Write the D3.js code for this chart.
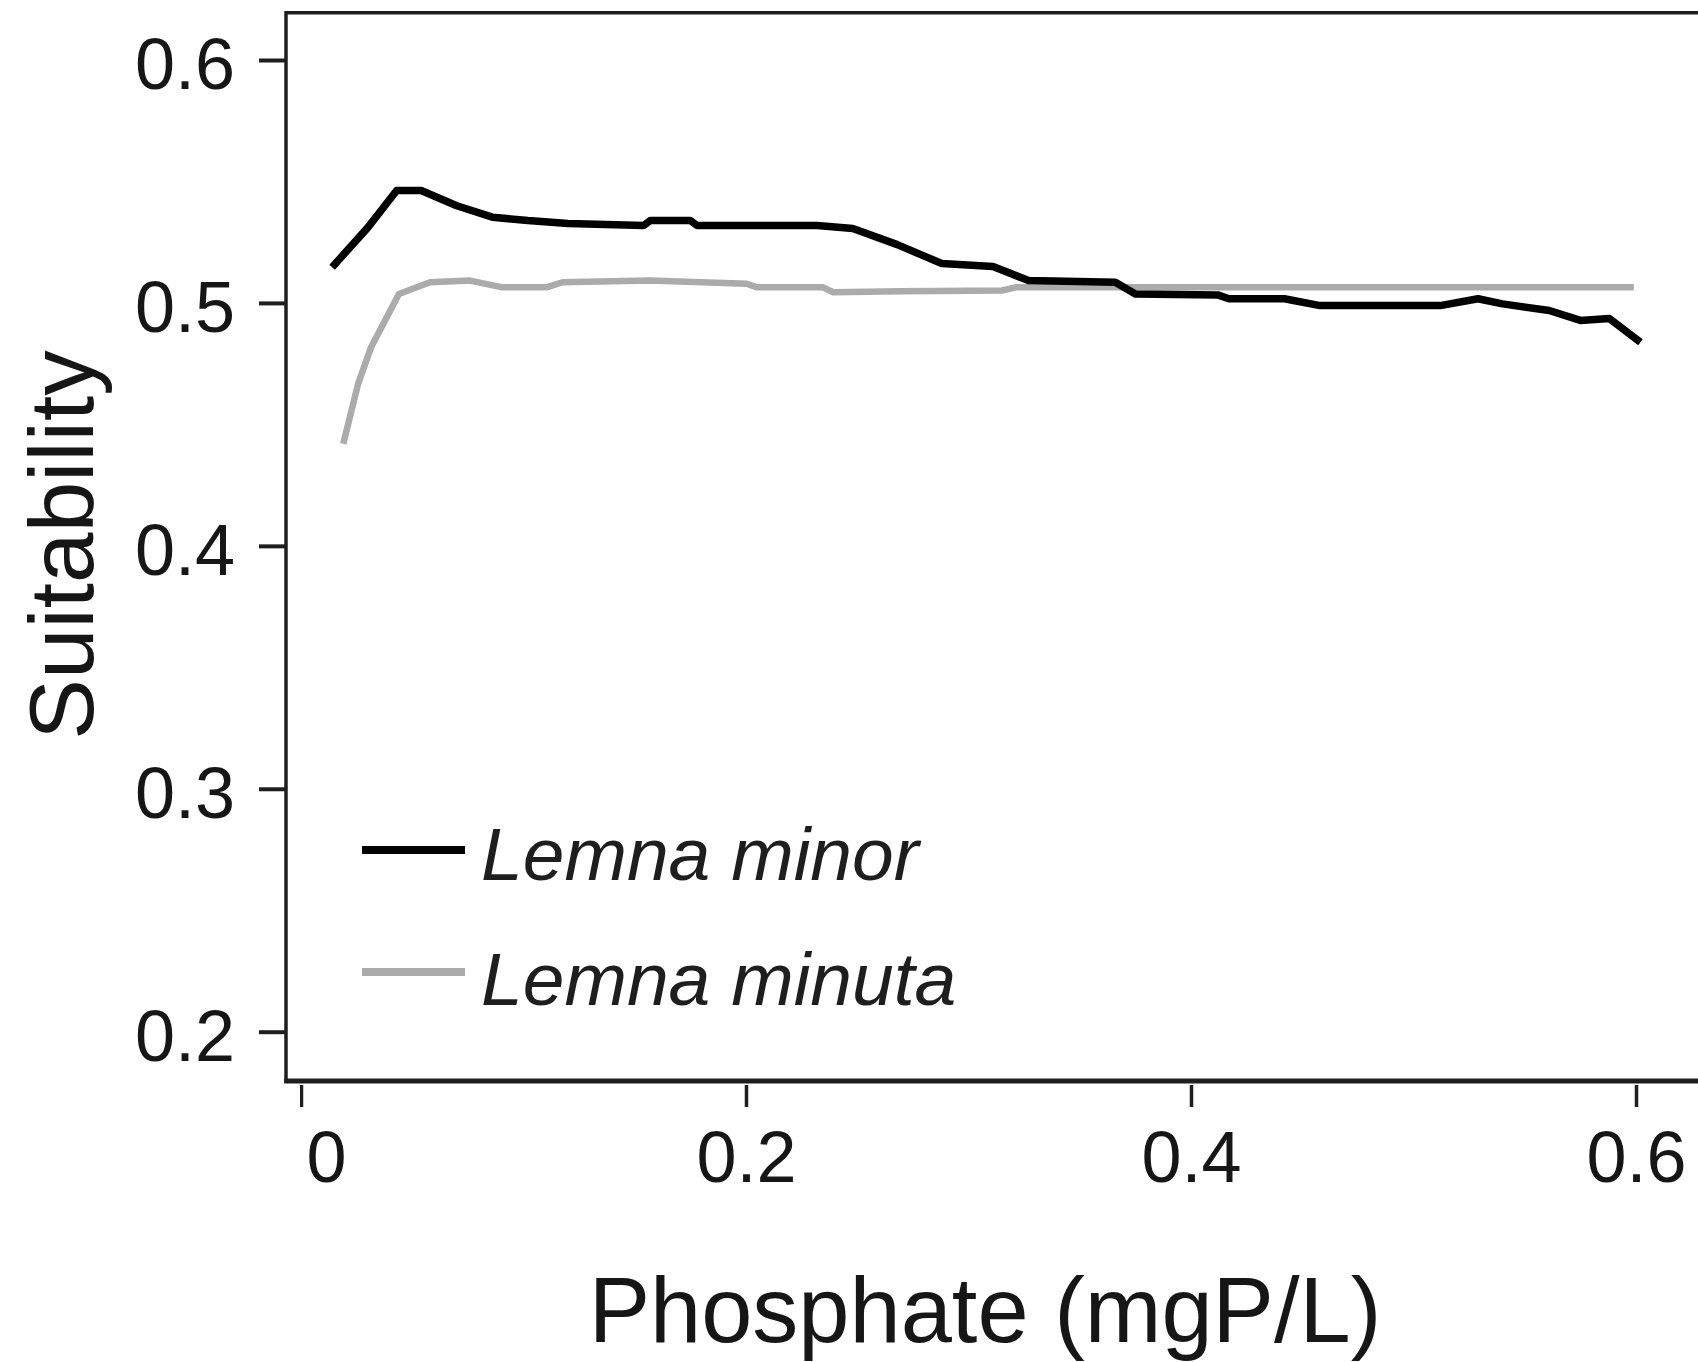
<!DOCTYPE html>
<html>
<head>
<meta charset="utf-8">
<script src="https://cdn.jsdelivr.net/npm/d3@7"></script>
<style>
  html, body { margin: 0; padding: 0; background: #fff; }
  svg { display: block; }
  text { font-family: "Liberation Sans", Arial, Helvetica, sans-serif; }
</style>
</head>
<body>
<svg id="chart" width="1698" height="1362"></svg>
<script>
// ---- Data ----
const seriesNames = ["Lemna minor", "Lemna minuta"];
const seriesColors = ["#000000", "#ababab"];

const minorX = [0.014, 0.030, 0.043, 0.054, 0.070, 0.086, 0.102, 0.120, 0.154, 0.157, 0.175, 0.178, 0.232, 0.248, 0.268, 0.288, 0.311, 0.327, 0.366, 0.375, 0.412, 0.417, 0.442, 0.458, 0.512, 0.529, 0.540, 0.561, 0.575, 0.588, 0.602];
const minorY = [0.5147, 0.5310, 0.5463, 0.5463, 0.5400, 0.5353, 0.5339, 0.5327, 0.5319, 0.5339, 0.5339, 0.5319, 0.5319, 0.5306, 0.5240, 0.5162, 0.5150, 0.5092, 0.5085, 0.5037, 0.5033, 0.5017, 0.5017, 0.4989, 0.4989, 0.5017, 0.4996, 0.4969, 0.4928, 0.4936, 0.4838];

const minutaX = [0.019, 0.0257, 0.0315, 0.044, 0.058, 0.076, 0.090, 0.1107, 0.1175, 0.1566, 0.2002, 0.2047, 0.2344, 0.2392, 0.270, 0.315, 0.3217, 0.360, 0.410, 0.450, 0.500, 0.550, 0.599];
const minutaY = [0.442, 0.4668, 0.4818, 0.5037, 0.5085, 0.5092, 0.5065, 0.5065, 0.5085, 0.5092, 0.5079, 0.5065, 0.5065, 0.5044, 0.5048, 0.5051, 0.5065, 0.5065, 0.5065, 0.5065, 0.5065, 0.5065, 0.5065];

const xTicks = [0, 0.2, 0.4, 0.6];
const xTickLabels = ["0.0", "0.2", "0.4", "0.6"];
const yTicks = [0.2, 0.3, 0.4, 0.5, 0.6];
const yTickLabels = ["0.2", "0.3", "0.4", "0.5", "0.6"];

const xTitle = "Phosphate (mgP/L)";
const yTitle = "Suitability";

// ---- Layout ----
const W = 1698, H = 1362;
const frameLeft = 286, frameTop = 12.7, frameBottom = 1081, frameRight = W;

const svg = d3.select("#chart");
svg.append("rect").attr("width", W).attr("height", H).attr("fill", "#fff");

const x = d3.scaleLinear().domain([0, 0.6]).range([301, 1636]);
const y = d3.scaleLinear().domain([0.2, 0.6]).range([1031.7, 60]);

// ---- Series lines ----
const series = [
  { name: seriesNames[0], color: seriesColors[0], width: 7.5, pts: minorX.map((v, i) => [v, minorY[i]]) },
  { name: seriesNames[1], color: seriesColors[1], width: 6.5, pts: minutaX.map((v, i) => [v, minutaY[i]]) }
];
const line = d3.line().x(d => x(d[0])).y(d => y(d[1]));

// draw gray first then black on top
[series[1], series[0]].forEach(s => {
  svg.append("path")
    .datum(s.pts)
    .attr("d", line)
    .attr("fill", "none")
    .attr("stroke", s.color)
    .attr("stroke-width", s.width)
    .attr("stroke-linejoin", "round")
    .attr("stroke-linecap", "butt");
});

// ---- Frame ----
const frame = svg.append("g").attr("stroke", "#1e1e1e").attr("fill", "none");
frame.append("line").attr("x1", frameLeft).attr("x2", frameRight).attr("y1", frameTop).attr("y2", frameTop).attr("stroke-width", 3.5);
frame.append("line").attr("x1", frameLeft).attr("x2", frameLeft).attr("y1", frameTop - 1.7).attr("y2", frameBottom + 2).attr("stroke-width", 3.5);
frame.append("line").attr("x1", frameLeft - 1.7).attr("x2", frameRight).attr("y1", frameBottom).attr("y2", frameBottom).attr("stroke-width", 5);

// ---- Y axis ----
const yAxis = d3.axisLeft(y)
  .tickValues(yTicks)
  .tickFormat((d, i) => yTickLabels[i])
  .tickSize(27)
  .tickPadding(24);
const gy = svg.append("g").attr("transform", `translate(${frameLeft},0)`).call(yAxis);
gy.select(".domain").remove();
gy.selectAll(".tick line").attr("stroke", "#1e1e1e").attr("stroke-width", 4);
gy.selectAll(".tick text")
  .attr("font-size", 72)
  .attr("font-family", "'Liberation Sans', Arial, sans-serif")
  .attr("fill", "#161616")
  .attr("dy", "0.4em");

// ---- X axis ----
const xAxis = d3.axisBottom(x)
  .tickValues(xTicks)
  .tickFormat((d, i) => xTickLabels[i])
  .tickSize(22)
  .tickPadding(24);
const gx = svg.append("g").attr("transform", `translate(0,1085)`).call(xAxis);
gx.select(".domain").remove();
gx.selectAll(".tick line").attr("stroke", "#1e1e1e").attr("stroke-width", 3.5);
gx.selectAll(".tick text")
  .attr("font-size", 72)
  .attr("font-family", "'Liberation Sans', Arial, sans-serif")
  .attr("fill", "#161616");
// first label sits slightly left in the reference
gx.selectAll(".tick text").filter((d, i) => i === 0).attr("dx", -5);

// crop artefact of the reference: the left part of the first x label is cut away
svg.append("rect").attr("x", 230).attr("y", 1086).attr("width", 70).attr("height", 34).attr("fill", "#fff");
svg.append("rect").attr("x", 230).attr("y", 1120).attr("width", 73).attr("height", 80).attr("fill", "#fff");

// ---- Axis titles ----
svg.append("text")
  .attr("x", 985).attr("y", 1342)
  .attr("text-anchor", "middle")
  .attr("font-size", 92)
  .attr("fill", "#161616")
  .text(xTitle);

svg.append("text")
  .attr("transform", "translate(93,545) rotate(-90)")
  .attr("text-anchor", "middle")
  .attr("font-size", 91)
  .attr("fill", "#161616")
  .text(yTitle);

// ---- Legend ----
const legendY = [850, 972];
const legendBase = [880, 1005];
series.forEach((s, i) => {
  svg.append("line")
    .attr("x1", 362).attr("x2", 465)
    .attr("y1", legendY[i]).attr("y2", legendY[i])
    .attr("stroke", s.color)
    .attr("stroke-width", 8);
  svg.append("text")
    .attr("x", 481).attr("y", legendBase[i])
    .attr("font-size", 75)
    .attr("font-style", "italic")
    .attr("fill", "#1e1e1e")
    .text(s.name);
});
</script>
</body>
</html>
